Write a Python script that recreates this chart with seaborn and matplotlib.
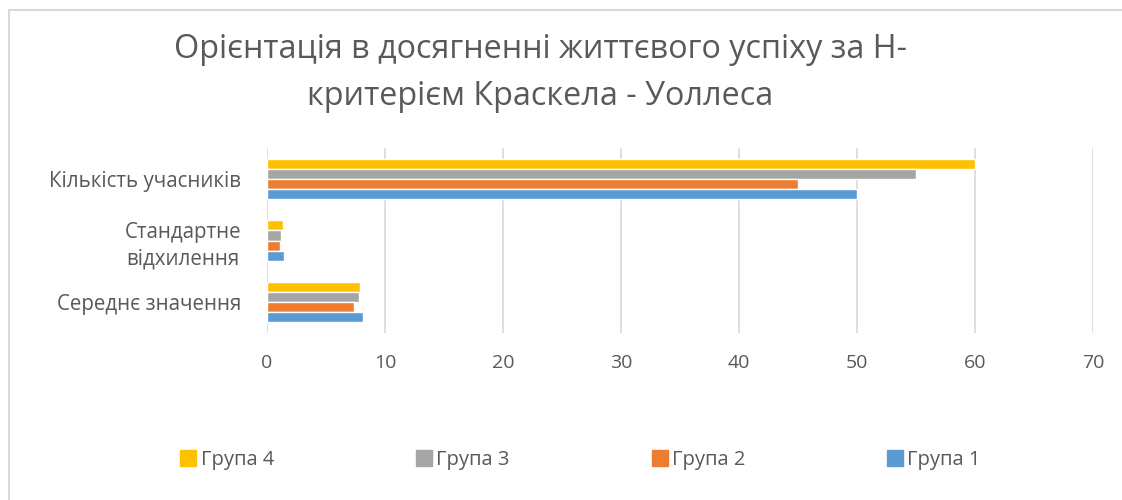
import matplotlib
matplotlib.use("Agg")
import matplotlib.pyplot as plt
import seaborn as sns
import pandas as pd
from matplotlib.lines import Line2D

categories = ["Кількість учасників", "Стандартне\nвідхилення", "Середнє значення"]
groups = ["Група 4", "Група 3", "Група 2", "Група 1"]
group1 = [50, 1.45, 8.1]
group2 = [45, 1.1, 7.4]
group3 = [55, 1.2, 7.8]
group4 = [60, 1.35, 7.9]
colors = {"Група 1": "#5B9BD5", "Група 2": "#ED7D31", "Група 3": "#A5A5A5", "Група 4": "#FFC000"}
xticks = [0, 10, 20, 30, 40, 50, 60, 70]
title = "Орієнтація в досягненні життєвого успіху за Н-\nкритерієм Краскела - Уоллеса"

rows = []
for g, vals in zip(["Група 1", "Група 2", "Група 3", "Група 4"], [group1, group2, group3, group4]):
    for c, v in zip(categories, vals):
        rows.append({"cat": c, "group": g, "value": v})
df = pd.DataFrame(rows)

sns.set_theme(style="white")
plt.rcParams['font.family'] = ['Open Sans', 'DejaVu Sans']

fig = plt.figure(figsize=(11.22, 5.0), dpi=100)
ax = fig.add_axes([267/1122, 1-333/500, (1093-267)/1122, (333-148)/500])

sns.barplot(data=df, y="cat", x="value", hue="group", order=categories,
            hue_order=groups, palette=colors, orient="h", width=0.65,
            ax=ax, legend=False, saturation=1)

ax.set_xlim(0, 70)
ax.set_xticks(xticks)
ax.set_xticklabels([str(t) for t in xticks], color="#595959", fontsize=14)
ax.tick_params(axis="y", colors="#595959", labelsize=14.8, length=0, pad=18.5)
ax.tick_params(axis="x", length=0, pad=15)
for lab in ax.get_yticklabels():
    lab.set_horizontalalignment("right")
    lab.set_multialignment("center")
    lab.set_linespacing(1.35)
ax.set_xlabel("")
ax.set_ylabel("")
ax.grid(axis="x", color="#D9D9D9", linewidth=1.2)
ax.set_axisbelow(True)
for s in ax.spines.values():
    s.set_visible(False)

fig.text(540/1122, 1-73/500, title, ha="center", va="center", fontsize=23.3,
         color="#595959", linespacing=1.55)

handles = [Line2D([], [], marker="s", linestyle="", markersize=11,
                  markerfacecolor=colors[g], markeredgecolor=colors[g]) for g in groups]
fig.legend(handles, groups, loc="center", bbox_to_anchor=(580/1122, 1-460/500),
           ncol=4, frameon=False, fontsize=14.5, labelcolor="#595959",
           columnspacing=7.0, handletextpad=0.15, handlelength=0.9)

# chart border
fig.add_artist(Line2D([9/1122, 1], [1-10/500, 1-10/500], color="#D9D9D9", linewidth=1.5))
fig.add_artist(Line2D([9/1122, 9/1122], [0, 1-10/500], color="#D9D9D9", linewidth=1.5))

fig.savefig("out.png", dpi=100)
